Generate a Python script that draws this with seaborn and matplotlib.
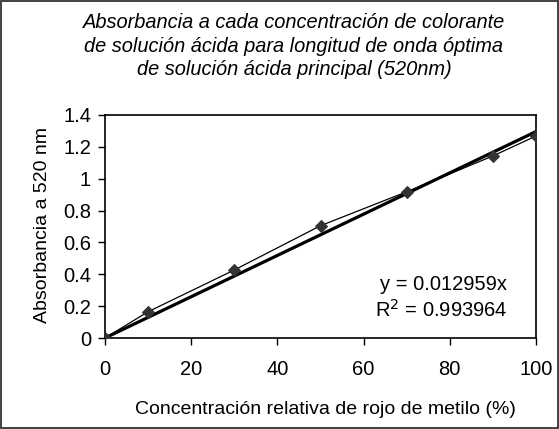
import matplotlib
matplotlib.use("Agg")
import matplotlib.pyplot as plt
import seaborn as sns
import pandas as pd
import numpy as np
from matplotlib.patches import Rectangle

concentracion = [0, 10, 30, 50, 70, 90, 100]
absorbancia = [0.0, 0.165, 0.427, 0.705, 0.918, 1.143, 1.268]
pendiente = 0.012959
r2 = 0.993964
x_ticks = [0, 20, 40, 60, 80, 100]
y_ticks = [0, 0.2, 0.4, 0.6, 0.8, 1.0, 1.2, 1.4]
y_ticklabels = ["0", "0.2", "0.4", "0.6", "0.8", "1", "1.2", "1.4"]

sns.set_theme(style="white")
plt.rcParams["font.family"] = ["Liberation Sans", "DejaVu Sans"]

df = pd.DataFrame({"x": concentracion, "y": absorbancia})

fig = plt.figure(figsize=(5.59, 4.29), dpi=100)
ax = fig.add_axes([105 / 559, 1 - 338 / 429, 431 / 559, 223 / 429])

# trendline
xt = np.array([min(concentracion), max(concentracion)], dtype=float)
trend = pd.DataFrame({"x": xt, "y": pendiente * xt})
sns.lineplot(data=trend, x="x", y="y", ax=ax, color="black", linewidth=2.3, zorder=3)

# data series
sns.lineplot(data=df, x="x", y="y", ax=ax, color="black", linewidth=0.9,
             marker="D", markersize=6.5, markerfacecolor="#333333",
             markeredgecolor="#333333", zorder=4)

ax.set_xlim(0, 100)
ax.set_ylim(0, 1.4)
ax.set_xticks(x_ticks)
ax.set_xticklabels([str(t) for t in x_ticks])
ax.set_yticks(y_ticks)
ax.set_yticklabels(y_ticklabels)
ax.tick_params(axis="both", direction="out", length=5, width=1, color="black",
               labelsize=14.5, labelcolor="black", bottom=True, left=True)
ax.tick_params(axis="x", pad=11)
ax.tick_params(axis="y", pad=5)
for s in ax.spines.values():
    s.set_visible(True)
    s.set_color("black")
    s.set_linewidth(1.2)

ax.set_xlabel("")
ax.set_ylabel("")
fig.text(325 / 559, 1 - 410 / 429, "Concentración relativa de rojo de metilo (%)",
         ha="center", va="center", fontsize=14, color="black")
fig.text(43 / 559, 1 - 225 / 429, "Absorbancia a 520 nm", rotation=90,
         ha="center", va="center", fontsize=14, color="black")

fig.text(294 / 559, 1 - 46 / 429,
         "Absorbancia a cada concentración de colorante\n"
         "de solución ácida para longitud de onda óptima\n"
         "de solución ácida principal (520nm)",
         ha="center", va="center", fontsize=14.4, style="italic",
         linespacing=1.3, color="black")

ax.text(0.933, 0.238, f"y = {pendiente}x", transform=ax.transAxes,
        ha="right", va="center", fontsize=14.5, color="black")
ax.text(0.933, 0.126, f"R$^2$ = {r2}", transform=ax.transAxes,
        ha="right", va="center", fontsize=14.5, color="black")

fig.patches.append(Rectangle((1 / 559, 1 / 429), 557 / 559, 427 / 429,
                             transform=fig.transFigure, fill=False,
                             edgecolor="#333333", linewidth=1.3))

fig.savefig("out.png", dpi=100)
